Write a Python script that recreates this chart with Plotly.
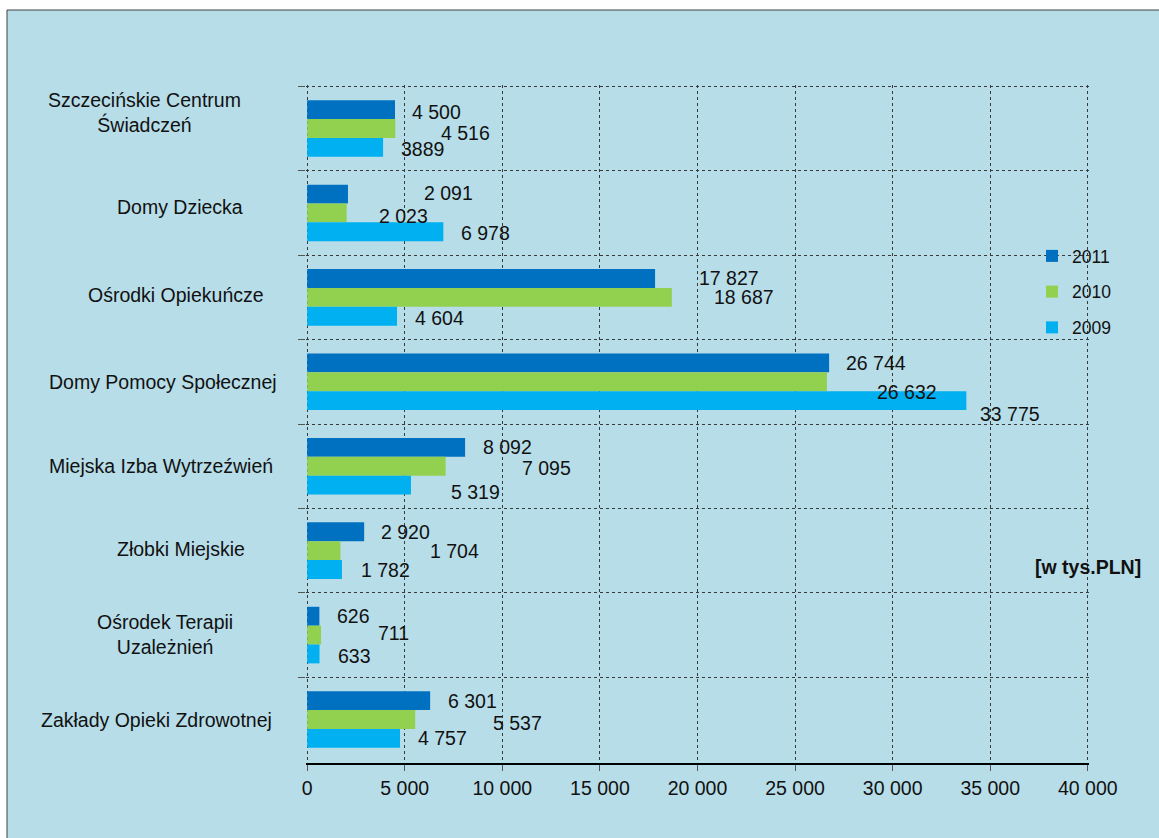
import plotly.graph_objects as go

# ---- data ----
categories = [
    "Szczecińskie Centrum<br>Świadczeń",
    "Domy Dziecka",
    "Ośrodki Opiekuńcze",
    "Domy Pomocy Społecznej",
    "Miejska Izba Wytrzeźwień",
    "Złobki Miejskie",
    "Ośrodek Terapii<br>Uzależnień",
    "Zakłady Opieki Zdrowotnej",
]
years = ["2011", "2010", "2009"]
values_2011 = [4500, 2091, 17827, 26744, 8092, 2920, 626, 6301]
values_2010 = [4516, 2023, 18687, 26632, 7095, 1704, 711, 5537]
values_2009 = [3889, 6978, 4604, 33775, 5319, 1782, 633, 4757]
x_ticks = [0, 5000, 10000, 15000, 20000, 25000, 30000, 35000, 40000]
unit_label = "[w tys.PLN]"
unseparated_labels = {("2009", 0)}  # printed as "3889" in the source

# ---- style ----
colors = {"2011": "#0070c0", "2010": "#92d050", "2009": "#00b0f0"}
bg = "#b7dde8"
grid = "#3a3a3a"
font_family = "Liberation Sans, Arial, sans-serif"
fs = 19.5

W, H = 1159, 838
ML, MR, MT, MB = 306, 70, 85, 75
PW, PH = W - ML - MR, H - MT - MB
x_pad = 60      # small range padding so edge gridlines are drawn
y_pad = 0.015
bargap = 0.33
band_px = PH / (len(categories) + 2 * y_pad)
bar_px = band_px * (1 - bargap) / 3

# label offsets (px) relative to the end of each bar
label_dx = {
    "2011": [15, 74, 42, 15, 16, 15, 16, 16],
    "2010": [44, 30, 40, 48, 74, 88, 55, 76],
    "2009": [16, 16, 16, 12, 38, 17, 16, 16],
}
label_dy = {
    "2011": [2, -1, 0, 0, 0, 0, 0, 0],
    "2010": [5, 3, 0, 10, 2, 0, -2, 3],
    "2009": [2, 1, 2, 13, 7, 0, 2, 0],
}
cat_label_center_px = [144, 179.5, 176, 163, 160.5, 180.5, 164.5, 156]
cat_label_dy = [-16, -6, -2, 0, 0, -2, -1, 0]

series = {"2011": values_2011, "2010": values_2010, "2009": values_2009}


def px_to_paper_x(px):
    return (px - ML) / PW


def px_to_paper_y(py):
    return (H - MB - py) / PH


def fmt(v):
    return f"{v:,}".replace(",", " ")


fig = go.Figure()
for y in years:
    fig.add_trace(go.Bar(
        name=y,
        y=categories,
        x=series[y],
        orientation="h",
        marker=dict(color=colors[y], line=dict(width=0)),
        legendgroup=y,
        hoverinfo="x+name",
    ))

annotations = []
for i, y in enumerate(years):
    for j, (c, v) in enumerate(zip(categories, series[y])):
        txt = str(v) if (y, j) in unseparated_labels else fmt(v)
        annotations.append(dict(
            x=v, y=c, xref="x", yref="y", text=txt, showarrow=False,
            xanchor="left", yanchor="middle",
            xshift=label_dx[y][j],
            yshift=-(i - 1) * bar_px - label_dy[y][j],
            font=dict(family=font_family, size=fs, color="#111111"),
        ))

for j, c in enumerate(categories):
    annotations.append(dict(
        x=px_to_paper_x(cat_label_center_px[j]), y=c, xref="paper", yref="y",
        text=c, showarrow=False, xanchor="center", yanchor="middle", align="center",
        yshift=-cat_label_dy[j],
        font=dict(family=font_family, size=fs, color="#111111"),
    ))

annotations.append(dict(
    x=px_to_paper_x(1143), y=px_to_paper_y(567), xref="paper", yref="paper",
    text="<b>" + unit_label + "</b>", showarrow=False, xanchor="right", yanchor="middle",
    font=dict(family=font_family, size=fs, color="#111111"),
))

shapes = [dict(
    type="rect", xref="paper", yref="paper", layer="below",
    x0=px_to_paper_x(7), x1=px_to_paper_x(W + 10),
    y0=px_to_paper_y(H + 10), y1=px_to_paper_y(10),
    fillcolor=bg, line=dict(color="#404040", width=1),
)]

fig.update_layout(
    width=W, height=H,
    margin=dict(l=ML, r=MR, t=MT, b=MB, pad=0),
    paper_bgcolor="white",
    plot_bgcolor="rgba(0,0,0,0)",
    barmode="group", bargap=bargap, bargroupgap=0,
    separators=", ",
    font=dict(family=font_family, size=fs, color="#111111"),
    showlegend=True,
    legend=dict(
        x=px_to_paper_x(1032), y=px_to_paper_y(238), xanchor="left", yanchor="top",
        bgcolor="rgba(0,0,0,0)", borderwidth=0,
        font=dict(family=font_family, size=17.5, color="#111111"),
        traceorder="grouped", tracegroupgap=10,
    ),
    annotations=annotations,
    shapes=shapes,
    xaxis=dict(
        range=[-x_pad, 40000 + x_pad], tickvals=x_ticks, tickformat=",d",
        showgrid=True, gridcolor=grid, griddash="dot", gridwidth=1,
        zeroline=False,
        showline=True, linecolor="black", linewidth=1.5,
        ticks="outside", ticklen=6, tickcolor="#555555",
        tickfont=dict(family=font_family, size=fs, color="#111111"),
        ticklabelstandoff=1,
        fixedrange=True,
    ),
    yaxis=dict(
        type="category",
        range=[len(categories) - 0.5 + y_pad, -0.5 - y_pad],
        tickson="boundaries", showticklabels=False,
        showgrid=True, gridcolor=grid, griddash="dot", gridwidth=1,
        ticks="outside", ticklen=7, tickcolor="#555555",
        zeroline=False, showline=False,
        fixedrange=True,
    ),
)

fig.write_html("out.html", config={"displayModeBar": False},
               post_script="document.body.style.margin='0';")
